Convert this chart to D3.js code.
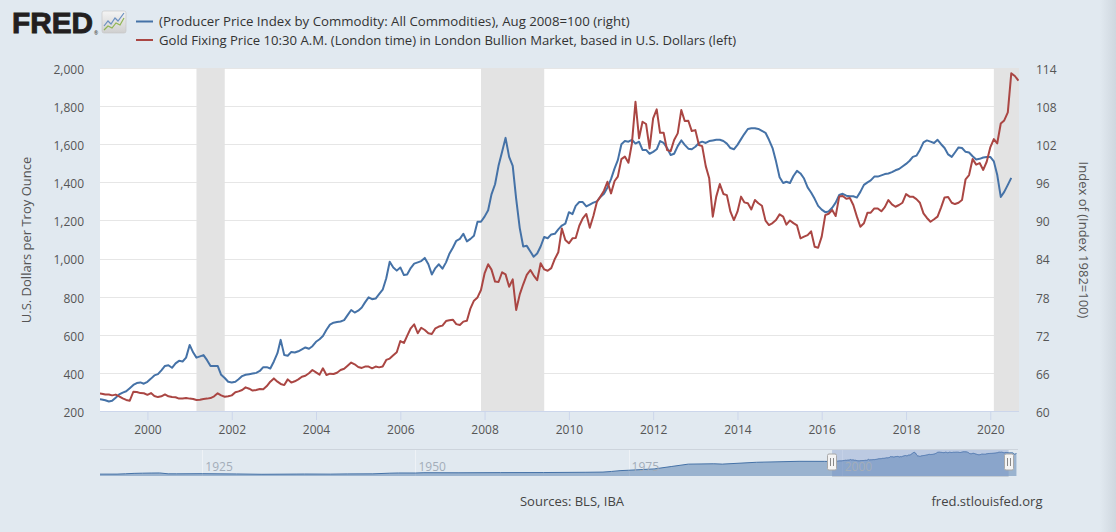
<!DOCTYPE html>
<html><head><meta charset="utf-8">
<script src="https://cdn.jsdelivr.net/npm/d3@7"></script>
<style>
html,body{margin:0;padding:0;background:#e1e9f0;overflow:hidden;}
svg{display:block;font-family:"Open Sans",sans-serif;}
</style></head><body>
<svg id="chart" width="1116" height="532"></svg>
<script>
// ---------------- DATA ----------------
const ppiStart = "1998-11";
const ppiValues = [61.9, 61.8,
 61.7, 61.5, 61.6, 62.1, 62.6, 62.9, 63.1, 63.6, 64.1, 64.4, 64.5, 64.3,
 64.6, 65.1, 65.6, 65.8, 66.4, 67.1, 67.2, 66.8, 67.5, 67.9, 67.8, 68.4,
 70.4, 69.2, 68.4, 68.6, 68.8, 68.0, 67.1, 67.1, 67.1, 65.7, 65.2, 64.6,
 64.5, 64.6, 65.0, 65.5, 65.7, 65.8, 65.9, 66.0, 66.3, 66.9, 66.9, 66.7,
 67.8, 69.1, 71.2, 68.8, 68.7, 69.3, 69.2, 69.4, 69.7, 70.0, 69.8, 70.2,
 70.9, 71.3, 71.8, 72.8, 73.6, 73.9, 74.0, 74.1, 74.3, 75.1, 75.9, 75.5,
 75.8, 76.3, 77.1, 77.9, 77.6, 77.7, 78.4, 79.1, 80.9, 83.5, 82.6, 82.1,
 82.6, 81.4, 81.5, 82.5, 83.2, 83.4, 83.6, 84.1, 83.1, 81.5, 82.5, 83.1,
 82.4, 83.4, 84.7, 85.7, 86.8, 87.1, 87.9, 86.7, 87.1, 87.6, 89.8, 89.8,
 90.6, 91.6, 94.1, 95.7, 98.6, 100.8, 103.0, 100.0, 98.6, 93.4, 88.8, 85.9,
 86.0, 85.1, 84.3, 84.8, 85.9, 87.4, 87.2, 87.8, 87.9, 88.6, 89.2, 89.5,
 91.3, 91.0, 92.3, 92.9, 92.9, 92.2, 92.5, 92.8, 93.0, 93.7, 94.2, 95.2,
 96.5, 98.2, 99.5, 102.0, 102.5, 102.4, 102.7, 102.1, 102.4, 101.1, 101.1, 100.5,
 100.8, 101.2, 102.5, 102.2, 101.4, 100.3, 100.5, 101.7, 102.6, 101.9, 101.3, 101.2,
 101.6, 102.2, 102.4, 102.2, 102.5, 102.6, 102.7, 102.7, 102.5, 102.1, 101.4, 101.2,
 101.9, 102.8, 103.6, 104.4, 104.5, 104.5, 104.4, 104.1, 103.8, 102.7, 101.4, 99.3,
 96.8, 95.9, 96.1, 95.9, 97.0, 97.8, 97.4, 96.6, 95.2, 94.4, 93.4, 92.3,
 91.7, 91.3, 91.4, 92.0, 92.8, 94.0, 94.2, 93.9, 93.8, 93.8, 93.6, 94.5,
 95.6, 96.0, 96.3, 96.9, 96.9, 97.1, 97.3, 97.4, 97.6, 97.9, 98.1, 98.5,
 98.9, 99.4, 100.0, 100.2, 101.1, 102.3, 102.6, 102.4, 102.2, 102.7, 102.0, 101.4,
 100.4, 100.0, 100.7, 101.5, 101.4, 100.8, 100.7, 100.1, 99.6, 99.7, 99.9, 100.0,
 100.0, 99.3, 97.2, 93.7, 94.5, 95.6, 96.7];

const goldStart = "1998-11";
const goldValues = [293, 291,
 287, 287, 282, 286, 277, 266, 258, 254, 301, 300, 294, 293,
 285, 294, 279, 273, 277, 287, 277, 273, 272, 265, 266, 268,
 265, 263, 258, 259, 263, 265, 268, 277, 293, 282, 275, 277,
 282, 298, 303, 310, 324, 317, 307, 310, 315, 314, 331, 354,
 371, 354, 342, 336, 366, 349, 356, 366, 380, 385, 398, 415,
 403, 391, 424, 389, 396, 394, 401, 415, 422, 438, 454, 445,
 431, 426, 433, 433, 424, 433, 429, 434, 468, 475, 492, 508,
 567, 557, 594, 634, 655, 608, 637, 625, 608, 604, 634, 643,
 648, 672, 676, 679, 656, 651, 669, 674, 739, 779, 796, 835,
 922, 970, 942, 879, 877, 928, 917, 852, 891, 730, 812, 865,
 914, 940, 912, 886, 975, 943, 936, 950, 998, 1033, 1158, 1097,
 1080, 1106, 1108, 1172, 1211, 1234, 1162, 1223, 1298, 1325, 1356, 1403,
 1342, 1407, 1430, 1522, 1535, 1503, 1604, 1823, 1631, 1718, 1706, 1578,
 1736, 1783, 1660, 1660, 1569, 1564, 1622, 1657, 1779, 1722, 1723, 1669,
 1674, 1596, 1590, 1485, 1421, 1220, 1325, 1391, 1339, 1333, 1246, 1202,
 1246, 1325, 1295, 1290, 1258, 1307, 1290, 1277, 1199, 1176, 1186, 1202,
 1232, 1220, 1178, 1200, 1186, 1174, 1106, 1115, 1123, 1143, 1062, 1057,
 1115, 1228, 1235, 1255, 1223, 1326, 1328, 1314, 1318, 1281, 1220, 1167,
 1185, 1241, 1241, 1263, 1263, 1248, 1270, 1307, 1284, 1272, 1281, 1293,
 1338, 1325, 1325, 1312, 1293, 1237, 1213, 1193, 1206, 1220, 1269, 1321,
 1323, 1293, 1286, 1293, 1307, 1416, 1438, 1522, 1493, 1501, 1465, 1508,
 1583, 1627, 1604, 1709, 1725, 1767, 1972, 1958, 1933];

const recessionStarts = ["2001-03", "2007-12", "2020-02"];
const recessionEnds   = ["2001-11", "2009-06", "2020-10"];

const xDomain = ["1998-11-16", "2020-09-06"];
const xTickYears = [2000, 2002, 2004, 2006, 2008, 2010, 2012, 2014, 2016, 2018, 2020];
const leftTicks = [200, 400, 600, 800, 1000, 1200, 1400, 1600, 1800, 2000];
const rightTicks = [60, 66, 72, 78, 84, 90, 96, 102, 108, 114];

// navigator (full-history PPI, Aug 2008 = 100), approximate yearly points before the main window
const navYears  = [1913, 1915, 1916, 1917, 1918, 1919, 1920, 1921, 1922, 1925, 1929, 1932, 1936, 1937, 1940, 1942, 1945, 1947, 1948, 1950, 1951, 1955, 1960, 1965, 1970, 1972, 1973, 1974, 1975, 1978, 1980, 1982, 1985, 1986, 1990, 1995, 1998];
const navValues = [6.0, 6.1, 7.5, 9.4, 10.2, 10.8, 11.2, 7.4, 7.3, 8.0, 6.8, 5.3, 6.2, 6.5, 6.0, 7.0, 7.3, 10.2, 11.1, 11.0, 12.3, 11.9, 12.7, 13.0, 14.2, 15.1, 17.8, 21.4, 23.1, 28.9, 39.4, 50.0, 51.6, 50.1, 58.2, 62.4, 62.2];
const navDomain = ["1913-01-01", "2020-09-06"];
const navTickYears = [1925, 1950, 1975, 2000];
const navSelection = ["1998-11-16", "2019-08-01"];

const legendItems = [
  "(Producer Price Index by Commodity: All Commodities), Aug 2008=100 (right)",
  "Gold Fixing Price 10:30 A.M. (London time) in London Bullion Market, based in U.S. Dollars (left)"
];
const leftTitle = "U.S. Dollars per Troy Ounce";
const rightTitle = "Index of (Index 1982=100)";
const sourceText = "Sources: BLS, IBA";
const siteText = "fred.stlouisfed.org";

// ---------------- CHART ----------------
const blue = "#4572a7", red = "#aa4643";
const P = {l: 100, r: 1019, t: 68, b: 411};
const svg = d3.select("#chart");
const pm = d3.timeParse("%Y-%m"), pd = d3.timeParse("%Y-%m-%d");
const seq = (start, n) => d3.range(n).map(i => d3.timeMonth.offset(pm(start), i));
const ppi = seq(ppiStart, ppiValues.length).map((d, i) => ({d, v: ppiValues[i]}));
const gold = seq(goldStart, goldValues.length).map((d, i) => ({d, v: goldValues[i]}));

const x = d3.scaleTime().domain(xDomain.map(pd)).range([P.l, P.r]);
const yL = d3.scaleLinear().domain([200, 2000]).range([P.b, P.t]);
const yR = d3.scaleLinear().domain([60, 114]).range([P.b, P.t]);

// background
svg.append("rect").attr("width", 1116).attr("height", 532).attr("fill", "#e1e9f0");
const gdef = svg.append("defs");
const sg = gdef.append("linearGradient").attr("id", "strip").attr("x1", 0).attr("x2", 1);
sg.append("stop").attr("offset", 0).attr("stop-color", "#e1e9f0");
sg.append("stop").attr("offset", 1).attr("stop-color", "#cfd7df");
svg.append("rect").attr("x", 1100).attr("y", 0).attr("width", 16).attr("height", 532).attr("fill", "url(#strip)");
gdef.append("clipPath").attr("id", "plotclip").append("rect")
  .attr("x", P.l).attr("y", P.t - 2).attr("width", P.r - P.l).attr("height", P.b - P.t + 2);

// plot area
svg.append("rect").attr("x", P.l).attr("y", P.t).attr("width", P.r - P.l).attr("height", P.b - P.t).attr("fill", "#fff");

// gridlines
svg.append("g").selectAll("line").data(leftTicks).join("line")
  .attr("x1", P.l).attr("x2", P.r)
  .attr("y1", d => Math.round(yL(d)) + 0.5).attr("y2", d => Math.round(yL(d)) + 0.5)
  .attr("stroke", "#e6e6e6").attr("stroke-width", 1);

// recessions
const plot = svg.append("g").attr("clip-path", "url(#plotclip)");
plot.selectAll("rect.rec").data(recessionStarts.map((s, i) => [pm(s), pm(recessionEnds[i])])).join("rect")
  .attr("class", "rec")
  .attr("x", d => x(d[0])).attr("width", d => x(d[1]) - x(d[0]))
  .attr("y", P.t).attr("height", P.b - P.t).attr("fill", "#e3e3e3");

// lines
plot.append("path").datum(ppi)
  .attr("d", d3.line().x(p => x(p.d)).y(p => yR(p.v)))
  .attr("fill", "none").attr("stroke", blue).attr("stroke-width", 2).attr("stroke-linejoin", "round");
plot.append("path").datum(gold)
  .attr("d", d3.line().x(p => x(p.d)).y(p => yL(p.v)))
  .attr("fill", "none").attr("stroke", red).attr("stroke-width", 2).attr("stroke-linejoin", "round");

// x axis
const xAxis = d3.axisBottom(x)
  .tickValues(xTickYears.map(y => new Date(y, 0, 1)))
  .tickFormat(d3.timeFormat("%Y")).tickSize(9).tickPadding(5);
const gx = svg.append("g").attr("transform", `translate(0,${P.b})`).call(xAxis);
gx.select(".domain").attr("stroke", "#ccd6eb").attr("d", `M${P.l},0.5H${P.r}`);
gx.selectAll(".tick line").attr("stroke", "#ccd6eb");
gx.selectAll(".tick text").attr("fill", "#555").attr("font-size", 12).attr("font-family", "Open Sans");

// left axis
const gl = svg.append("g").attr("transform", `translate(${P.l},0)`)
  .call(d3.axisLeft(yL).tickValues(leftTicks).tickFormat(d3.format(",")).tickSize(0).tickPadding(16));
gl.select(".domain").remove();
gl.selectAll(".tick text").attr("fill", "#555").attr("font-size", 12).attr("font-family", "Open Sans").attr("dy", "0.45em");

// right axis
const gr = svg.append("g").attr("transform", `translate(${P.r},0)`)
  .call(d3.axisRight(yR).tickValues(rightTicks).tickSize(0).tickPadding(17));
gr.select(".domain").remove();
gr.selectAll(".tick text").attr("fill", "#555").attr("font-size", 12).attr("font-family", "Open Sans").attr("dy", "0.45em");

// axis titles
svg.append("text").attr("transform", "translate(31,240) rotate(-90)")
  .attr("text-anchor", "middle").attr("font-size", 13).attr("fill", "#555").text(leftTitle);
svg.append("text").attr("transform", "translate(1079,240) rotate(90)")
  .attr("text-anchor", "middle").attr("font-size", 13).attr("fill", "#555").text(rightTitle);

// ---------------- NAVIGATOR ----------------
const N = {t: 449, b: 476};
const nx = d3.scaleTime().domain(navDomain.map(pd)).range([100, 1018]);
const ny = d3.scaleLinear().domain([0, 110]).range([475.5, 450.5]);
const navData = navYears.map((y, i) => ({d: new Date(y, 0, 1), v: navValues[i]}))
  .concat(ppi.filter(p => p.d >= new Date(1999, 0, 1)));
const ng = svg.append("g");
ng.selectAll("line.ngrid").data(navTickYears).join("line")
  .attr("x1", d => Math.round(nx(new Date(d, 0, 1))) + 0.5).attr("x2", d => Math.round(nx(new Date(d, 0, 1))) + 0.5)
  .attr("y1", N.t).attr("y2", N.b).attr("stroke", "#eef2f6");
ng.append("path").datum(navData)
  .attr("d", d3.area().x(p => nx(p.d)).y0(N.b).y1(p => ny(p.v)))
  .attr("fill", "rgba(69,114,167,0.45)");
ng.append("path").datum(navData)
  .attr("d", d3.line().x(p => nx(p.d)).y(p => ny(p.v)))
  .attr("fill", "none").attr("stroke", blue).attr("stroke-width", 1);
const s0 = nx(pd(navSelection[0])), s1 = nx(pd(navSelection[1]));
ng.append("rect").attr("x", s0).attr("y", N.t).attr("width", s1 - s0).attr("height", N.b - N.t)
  .attr("fill", "rgba(102,133,194,0.3)");
ng.selectAll("text.nlab").data(navTickYears).join("text")
  .attr("x", d => nx(new Date(d, 0, 1)) + 3).attr("y", 471)
  .attr("font-size", 12).attr("fill", "#a3adb9").text(d => d);
ng.append("line").attr("x1", 100).attr("x2", 1018).attr("y1", N.t + 0.5).attr("y2", N.t + 0.5).attr("stroke", "#cdd4dc");
ng.append("line").attr("x1", s0).attr("x2", s1).attr("y1", N.b + 0.5).attr("y2", N.b + 0.5).attr("stroke", "#c4ccd4");
[s0, s1].forEach(hx => {
  const h = ng.append("g").attr("transform", `translate(${Math.round(hx)},462)`);
  h.append("rect").attr("x", -4.5).attr("y", -8).attr("width", 9).attr("height", 16).attr("rx", 1.5)
    .attr("fill", "#f4f4f4").attr("stroke", "#a8a8a8");
  h.append("line").attr("x1", -1.5).attr("x2", -1.5).attr("y1", -4).attr("y2", 4).attr("stroke", "#888");
  h.append("line").attr("x1", 1.5).attr("x2", 1.5).attr("y1", -4).attr("y2", 4).attr("stroke", "#888");
});

// ---------------- HEADER / LEGEND ----------------
svg.append("text").attr("x", 12).attr("y", 33).attr("font-family", "Liberation Sans, Arial, sans-serif")
  .attr("font-weight", "bold").attr("font-size", 29).attr("fill", "#231f20")
  .attr("stroke", "#231f20").attr("stroke-width", 0.9)
  .attr("textLength", 81).attr("lengthAdjust", "spacingAndGlyphs").text("FRED");
svg.append("text").attr("x", 94).attr("y", 35).attr("font-size", 5).attr("fill", "#231f20").text("®");
const ig = gdef.append("linearGradient").attr("id", "icon").attr("x1", 0).attr("x2", 0).attr("y1", 0).attr("y2", 1);
ig.append("stop").attr("offset", 0).attr("stop-color", "#f4f4f4");
ig.append("stop").attr("offset", 1).attr("stop-color", "#cfcfcf");
svg.append("rect").attr("x", 102).attr("y", 11).attr("width", 24).attr("height", 22).attr("rx", 2)
  .attr("fill", "url(#icon)").attr("stroke", "#c4c4c4").attr("stroke-width", 0.6);
const iconBlue = [[104,26],[108,21],[111,24],[115,18],[118,21],[124,13]];
const iconGreen = [[104,30],[108,26],[112,28],[116,23],[120,25],[124,18]];
svg.append("path").attr("d", d3.line()(iconBlue)).attr("fill", "none").attr("stroke", "#6a8fc0").attr("stroke-width", 1.2);
svg.append("path").attr("d", d3.line()(iconGreen)).attr("fill", "none").attr("stroke", "#8fb552").attr("stroke-width", 1.2);

const legendColors = [blue, red];
const legendTargets = [630, 737];
legendItems.forEach((t, i) => {
  const yy = [21.5, 40][i];
  svg.append("line").attr("x1", 136).attr("x2", 153).attr("y1", yy).attr("y2", yy)
    .attr("stroke", legendColors[i]).attr("stroke-width", 2);
  const tx = svg.append("text").attr("x", 159).attr("y", yy + 4.6).attr("font-size", 13).attr("fill", "#333").text(t);
  const w = tx.node().getComputedTextLength();
  const fs = 13 * (legendTargets[i] - 159) / w;
  tx.attr("font-size", Math.min(14, Math.max(11.5, fs)));
});

// footer
svg.append("text").attr("x", 572).attr("y", 506).attr("text-anchor", "middle")
  .attr("font-size", 13).attr("fill", "#444").text(sourceText);
svg.append("text").attr("x", 987).attr("y", 506).attr("text-anchor", "middle")
  .attr("font-size", 13).attr("fill", "#444").text(siteText);
</script>
</body></html>
